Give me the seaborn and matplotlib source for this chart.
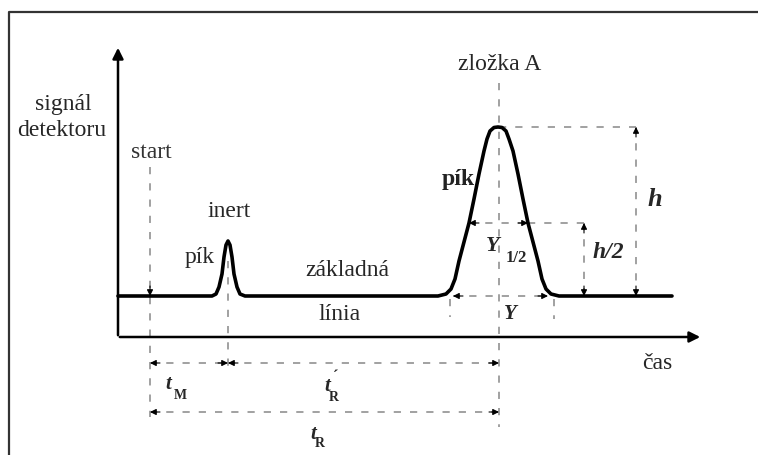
import matplotlib
matplotlib.use("Agg")
import matplotlib.pyplot as plt
import seaborn as sns
import pandas as pd

# --- data: chromatogram trace (time px, signal px, y downwards) ---
trace_time = [118, 212, 216, 219, 222, 224, 226, 228, 230, 232, 234, 237, 240, 245,
              438, 446, 451, 455, 459, 464, 469, 474, 479, 484, 487, 490, 494, 498,
              502, 506, 509, 513, 518, 523, 528, 533, 538, 542, 546, 551, 559, 672]
trace_signal = [297, 297, 295, 288, 275, 258, 246, 242, 246, 258, 275, 288, 295, 297,
                297, 295, 290, 280, 262, 243, 224, 200, 175, 152, 140, 132, 128.5, 128,
                128.5, 132, 140, 152, 175, 200, 224, 243, 262, 280, 290, 295, 297, 297]

# key times (px) and levels
t_start = 150
t_inert = 228
t_peak = 499
baseline = 297
peak_top = 128
half_level = 224
half_left, half_right = 469, 528
base_left, base_right = 453, 548

W, H = 758, 456
fig = plt.figure(figsize=(W / 100, H / 100), dpi=100)
ax = fig.add_axes([0, 0, 1, 1])
sns.set_style("white")
plt.rcParams['font.family'] = ['Liberation Serif', 'DejaVu Serif']
ax.set_xlim(0, W)
ax.set_ylim(H, 0)
ax.axis("off")

FS = 17
serif = ['Liberation Serif', 'DejaVu Serif']

# frame
ax.plot([9, 9, W + 5], [H + 5, 13, 13], color="#333333", lw=1.6, solid_capstyle="butt")

# axes arrows
ax.annotate("", xy=(118, 46), xytext=(118, 339),
            arrowprops=dict(arrowstyle="-|>", color="black", lw=1.8, mutation_scale=16))
ax.annotate("", xy=(703, 338), xytext=(117, 338),
            arrowprops=dict(arrowstyle="-|>", color="black", lw=1.8, mutation_scale=16))

# dashed guide lines
dash = dict(color="#9a9a9a", lw=1.3, linestyle=(0, (4, 5)))
ax.plot([t_start, t_start], [168, 418], **dash)
ax.plot([t_inert, t_inert], [262, 372], **dash)
ax.plot([t_peak, t_peak], [84, 428], **dash)
ax.plot([t_peak, 636], [peak_top, peak_top], **dash)
ax.plot([half_right, 592], [half_level, half_level], **dash)
ax.plot([636, 636], [peak_top, baseline], **dash)
ax.plot([584, 584], [half_level, baseline], **dash)
ax.plot([half_left, half_right], [half_level, half_level], **dash)
ax.plot([base_left, base_right], [baseline, baseline], **dash)
ax.plot([t_start, t_inert], [364, 364], **dash)
ax.plot([t_inert, t_peak], [364, 364], **dash)
ax.plot([t_start, t_peak], [413, 413], **dash)
ax.plot([450, 450], [300, 318], **dash)
ax.plot([554, 554], [300, 320], **dash)

def head(tip, frm):
    ax.annotate("", xy=tip, xytext=frm,
                arrowprops=dict(arrowstyle="-|>", color="black", lw=0.8,
                                mutation_scale=9, shrinkA=0, shrinkB=0))

# arrow heads of the dimension lines
head((t_start, 297), (t_start, 287))
head((636, peak_top), (636, peak_top + 10))
head((636, baseline), (636, baseline - 10))
head((584, half_level), (584, half_level + 10))
head((584, baseline), (584, baseline - 10))
head((half_left, half_level), (half_left + 10, half_level))
head((half_right, half_level), (half_right - 10, half_level))
head((base_left, baseline), (base_left + 10, baseline))
head((base_right, baseline), (base_right - 10, baseline))
head((t_start, 364), (t_start + 10, 364))
head((t_inert, 364), (t_inert - 10, 364))
head((t_inert, 364), (t_inert + 10, 364))
head((t_peak, 364), (t_peak - 10, 364))
head((t_start, 413), (t_start + 10, 413))
head((t_peak, 413), (t_peak - 10, 413))

# chromatogram trace
df = pd.DataFrame({"time": trace_time, "signal": trace_signal})
sns.lineplot(data=df, x="time", y="signal", ax=ax, color="black", lw=2.6,
             sort=False, estimator=None)
ax.set_xlim(0, W)
ax.set_ylim(H, 0)
ax.axis("off")

# texts
def txt(x, y, s, size=FS, **kw):
    ax.text(x, y, s, fontsize=size, ha="center", va="center", family=serif, **kw)

txt(63, 105, "signál")
txt(62, 131, "detektoru")
txt(151, 153, "start", color="#333333")
txt(229, 212, "inert")
txt(200, 258, "pík")
txt(347, 271, "základná")
txt(340, 315, "línia")
txt(500, 65, "zložka A")
txt(458, 180, "pík", weight="bold", color="#222222")
txt(657, 364, "čas")
txt(655, 200, "h", size=19, weight="bold", style="italic")
txt(608, 253, "h/2", size=17, weight="bold", style="italic")
txt(493, 246, "Y", size=16, weight="bold", style="italic")
txt(516, 258, "1/2", size=12, weight="bold")
txt(510, 314, "Y", size=15, weight="bold", style="italic")
txt(168, 384, "t", size=15, weight="bold", style="italic")
txt(180, 396, "M", size=10, weight="bold")
txt(327, 386, "t", size=15, weight="bold", style="italic")
txt(336, 377, "´", size=12, weight="bold")
txt(334, 398, "R", size=10, weight="bold")
txt(313, 434, "t", size=15, weight="bold", style="italic")
txt(320, 444, "R", size=10, weight="bold")

fig.savefig("out.png", dpi=100)
